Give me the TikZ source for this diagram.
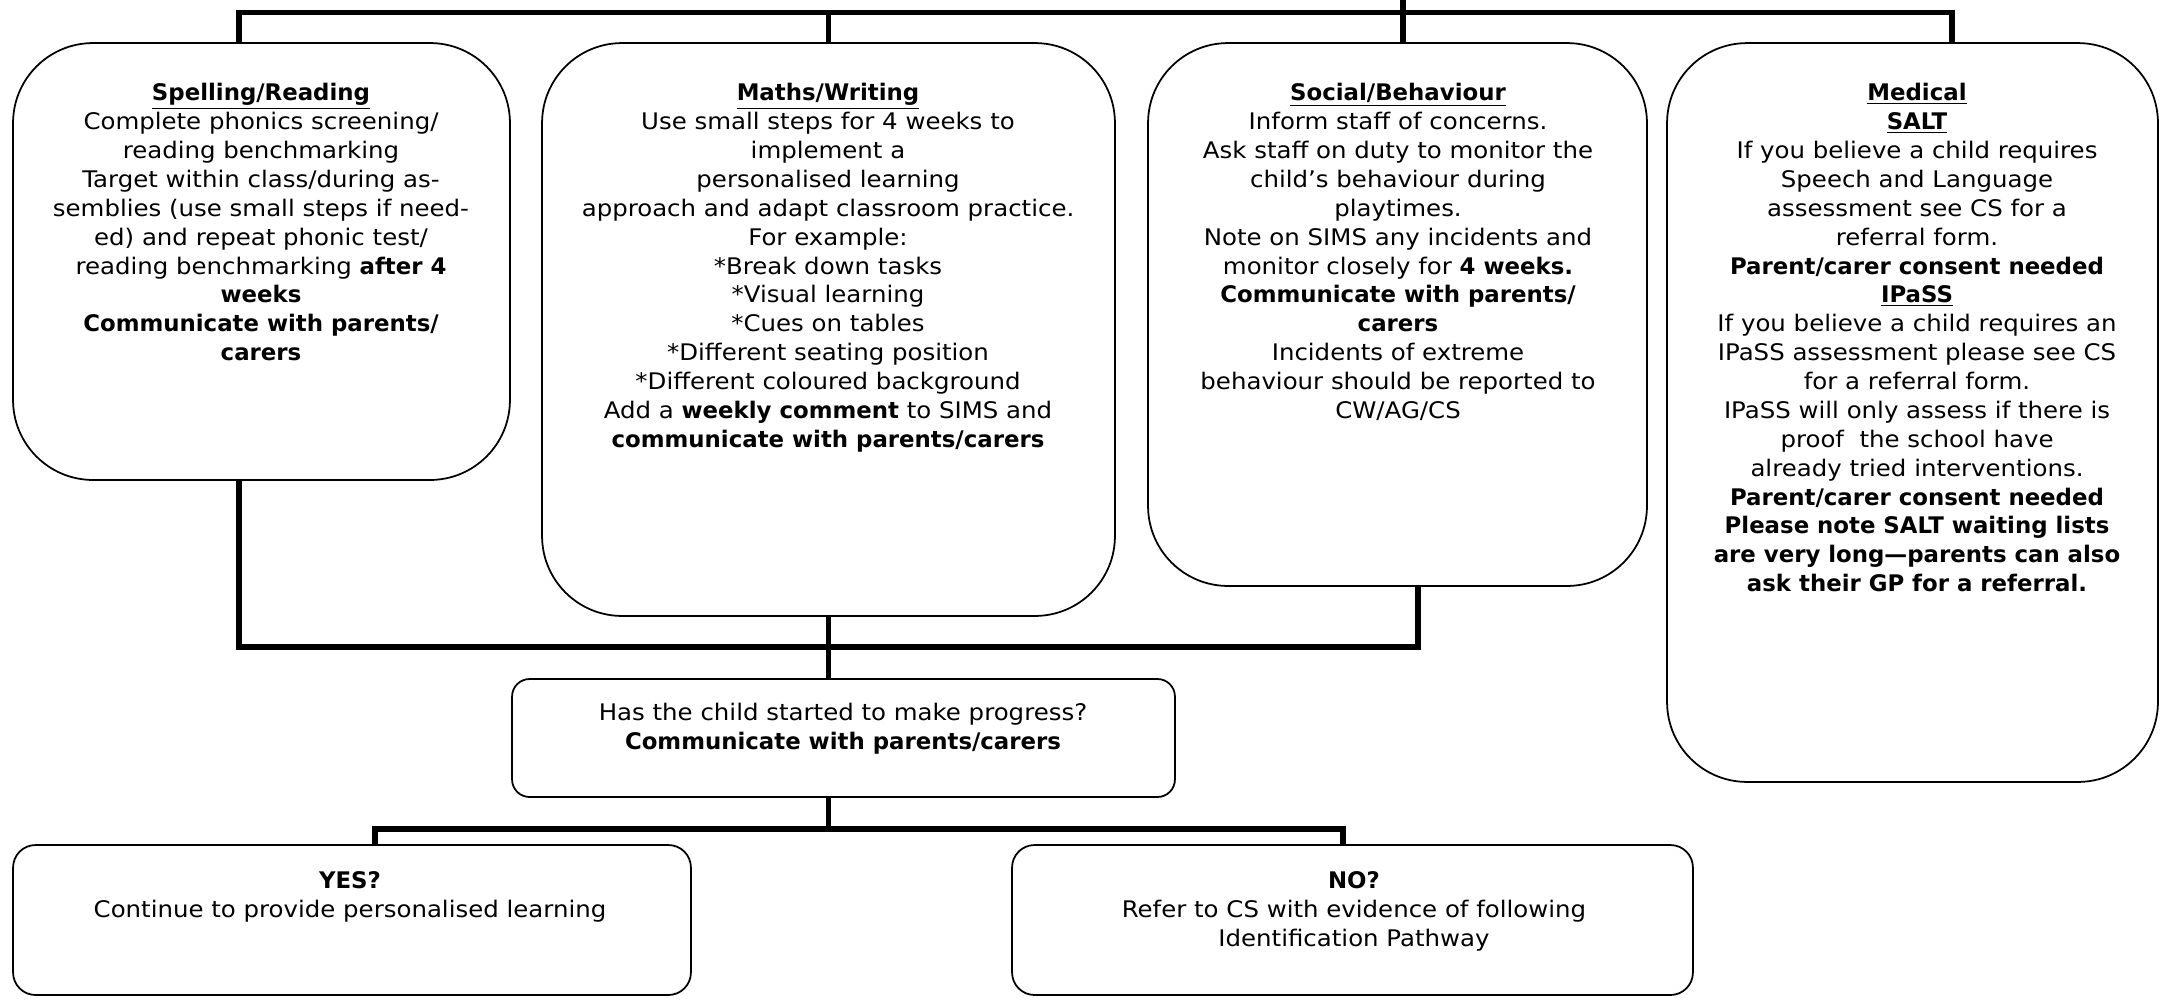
\documentclass[tikz,border=0pt]{standalone}
\usepackage{fontspec}
\setmainfont{DejaVu Sans}[FakeStretch=1.07, BoldFeatures={FakeStretch=1.0}]
\usepackage{tikz}
\newcommand{\hd}[1]{\underline{\textbf{#1}}}

\begin{document}
\begin{tikzpicture}[x=0.02cm, y=-0.02cm,
	box/.style={draw, line width=1pt, rounded corners=1.6cm, inner sep=0},
	smallbox/.style={draw, line width=1pt, rounded corners=0.45cm, inner sep=0},
	txt/.style={align=center, inner sep=0, anchor=north, font=\fontsize{13}{16.44}\selectfont},
	link/.style={line width=3.1pt}]
	\useasboundingbox (0,0) rectangle (2168,1002);
	\node[box, minimum width=9.94cm, minimum height=8.74cm] (spell) at (261.5,261.5) {};
	\node[box, minimum width=11.46cm, minimum height=11.46cm] (maths) at (828.5,329.5) {};
	\node[box, minimum width=9.98cm, minimum height=10.86cm] (soc) at (1397.5,314.5) {};
	\node[box, minimum width=9.82cm, minimum height=14.78cm] (med) at (1912.5,412.5) {};
	\node[smallbox, rounded corners=0.35cm, minimum width=13.26cm, minimum height=2.36cm] (prog) at (843.5,738) {};
	\node[smallbox, minimum width=13.56cm, minimum height=3cm] (yes) at (352,920) {};
	\node[smallbox, minimum width=13.62cm, minimum height=3cm] (no) at (1352.5,920) {};
	\node[txt] (spelltxt) at (261,83) {\hd{Spelling/Reading}\\
		Complete phonics screening/\\
		reading benchmarking\\
		Target within class/during as-\\
		semblies (use small steps if need-\\
		ed) and repeat phonic test/\\
		reading benchmarking \textbf{after 4}\\
		\textbf{weeks}\\
		\textbf{Communicate with parents/}\\
		\textbf{carers}};
	\node[txt] (mathstxt) at (828,83) {\hd{Maths/Writing}\\
		Use small steps for 4 weeks to\\
		implement a\\
		personalised learning\\
		approach and adapt classroom practice.\\
		For example:\\
		*Break down tasks\\
		*Visual learning\\
		*Cues on tables\\
		*Different seating position\\
		*Different coloured background\\
		Add a \textbf{weekly comment} to SIMS and\\
		\textbf{communicate with parents/carers}};
	\node[txt] (soctxt) at (1398,83) {\hd{Social/Behaviour}\\
		Inform staff of concerns.\\
		Ask staff on duty to monitor the\\
		child’s behaviour during\\
		playtimes.\\
		Note on SIMS any incidents and\\
		monitor closely for \textbf{4 weeks.}\\
		\textbf{Communicate with parents/}\\
		\textbf{carers}\\
		Incidents of extreme\\
		behaviour should be reported to\\
		CW/AG/CS};
	\node[txt] (medtxt) at (1917,83) {\hd{Medical}\\
		\hd{SALT}\\
		If you believe a child requires\\
		Speech and Language\\
		assessment see CS for a\\
		referral form.\\
		\textbf{Parent/carer consent needed}\\
		\hd{IPaSS}\\
		If you believe a child requires an\\
		IPaSS assessment please see CS\\
		for a referral form.\\
		IPaSS will only assess if there is\\
		proof\ \ the school have\\
		already tried interventions.\\
		\textbf{Parent/carer consent needed}\\
		\textbf{Please note SALT waiting lists}\\
		\textbf{are very long—parents can also}\\
		\textbf{ask their GP for a referral.}};
	\node[txt] (progtxt) at (843,703) {Has the child started to make progress?\\
		\textbf{Communicate with parents/carers}};
	\node[txt] (yestxt) at (350,871) {\textbf{YES?}\\
		Continue to provide personalised learning};
	\node[txt] (notxt) at (1354,871) {\textbf{NO?}\\
		Refer to CS with evidence of following\\
		Identification Pathway};
	\coordinate (trunk) at (1403,0);
	\coordinate (topL) at (239,12.5);
	\coordinate (topR) at (1952,12.5);
	\coordinate (botL) at (239,647);
	\coordinate (botR) at (1418,647);
	\coordinate (ynL) at (375,829);
	\coordinate (ynR) at (1343,829);
	\draw[link] (topL |- spell.north) -- (topL) -- (topR) -- (topR |- med.north);
	\draw[link] (maths.north) -- (maths.north |- topL);
	\draw[link] (trunk) -- (trunk |- soc.north);
	\draw[link] (botL |- spell.south) -- (botL) -- (botR) -- (botR |- soc.south);
	\draw[link] (maths.south) -- (maths.south |- prog.north);
	\draw[link] (maths.south |- prog.south) -- (maths.south |- ynL);
	\draw[link] (ynL |- yes.north) -- (ynL) -- (ynR) -- (ynR |- no.north);
\end{tikzpicture}
\end{document}
